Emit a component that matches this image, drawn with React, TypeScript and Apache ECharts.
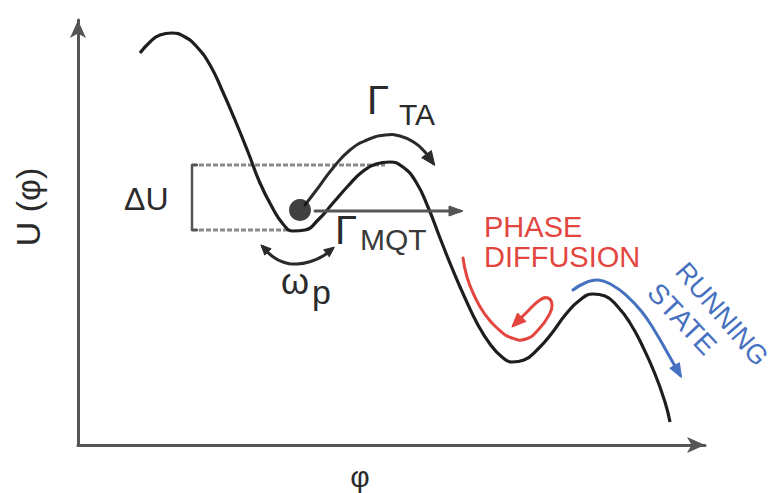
import React, { useEffect, useRef } from "react";
import * as echarts from "echarts";

// Tilted washboard potential U(φ) (schematic values)
const phi = [62, 72, 82, 94, 107, 119, 132, 144, 157, 170, 182, 194, 205, 215, 227, 240, 255, 270, 284, 298, 312, 325, 338, 350, 362, 374, 387, 400, 412, 424, 434, 446, 460, 474, 488, 502, 515, 527, 540, 552, 564, 577, 587, 592];
const U = [392, 403, 410, 412, 408, 398, 380, 355, 325, 293, 262, 238, 221, 214, 215, 225, 242, 259, 273, 281, 283, 278, 263, 238, 207, 177, 147, 120, 101, 88, 83, 85, 96, 112, 131, 145, 151, 149, 138, 122, 100, 71, 43, 23];

// Annotations, in the same (φ, U) coordinates
const deltaUTop = [[114, 280], [307, 280]];
const deltaUBottom = [[114, 215], [212, 215]];
const deltaUBracket = [[119, 280], [114, 280], [114, 215], [119, 215]];
const particle = [[222, 235]];
const mqtArrow = [[237, 234], [382, 234]];
const taArrow = [[227, 240], [240, 257], [255, 277], [272, 295], [289, 305], [307, 310], [322, 309], [337, 302], [347, 293], [355, 282]];
const omegaArc = [[185, 198], [194, 189], [205, 183], [219, 181], [234, 184], [245, 189], [254, 196]];
const diffusionArc = [[385, 187], [389, 168], [396, 150], [406, 132], [419, 117], [434, 107], [448, 106], [461, 116], [471, 130], [474, 140], [470, 147], [462, 145], [449, 133], [436, 120]];
const runningArc = [[495, 155], [507, 162], [520, 165], [534, 160], [549, 149], [564, 133], [578, 112], [589, 93], [602, 70]];

const FONT = "'Liberation Sans', Arial, Helvetica, sans-serif";

type PathOpts = { start?: boolean; end?: boolean; smooth?: number; dash?: number[]; head?: [number, number]; z?: number };

function pathSeries(points: number[][], color: string, width: number, opts: PathOpts) {
  const [hl, hw] = opts.head ?? [14, 11];
  return {
    type: "custom",
    coordinateSystem: "cartesian2d",
    data: points,
    encode: { x: 0, y: 1 },
    silent: true,
    z: opts.z ?? 3,
    renderItem: (params: any, api: any) => {
      if (params.dataIndex !== 0) return null;
      const pts = points.map((p) => api.coord(p));
      const n = pts.length;
      const children: any[] = [
        {
          type: "polyline",
          shape: { points: pts, smooth: opts.smooth ?? 0 },
          style: { stroke: color, lineWidth: width, fill: "none", lineDash: opts.dash, lineCap: opts.dash ? "butt" : "round", lineJoin: "round" },
        },
      ];
      const head = (a: number[], b: number[]) => {
        const dx = b[0] - a[0];
        const dy = b[1] - a[1];
        const len = Math.hypot(dx, dy) || 1;
        const ux = dx / len;
        const uy = dy / len;
        const tip = [b[0] + ux * 3, b[1] + uy * 3];
        const base = [tip[0] - ux * hl, tip[1] - uy * hl];
        const px = -uy;
        const py = ux;
        return {
          type: "polygon",
          shape: { points: [tip, [base[0] + px * hw / 2, base[1] + py * hw / 2], [base[0] - px * hw / 2, base[1] - py * hw / 2]] },
          style: { fill: color, stroke: color, lineWidth: 1 },
        };
      };
      if (opts.end) children.push(head(pts[n - 2], pts[n - 1]));
      if (opts.start) children.push(head(pts[1], pts[0]));
      return { type: "group", children };
    },
  };
}

function txt(text: string, x: number, y: number, size: number, color: string, extra: any = {}) {
  return {
    type: "text",
    x,
    y,
    rotation: extra.rotation ?? 0,
    silent: true,
    z: 10,
    style: {
      text,
      fontSize: size,
      fontFamily: FONT,
      fill: color,
      align: extra.align ?? "left",
      verticalAlign: "middle",
    },
  };
}

export default function App() {
  const ref = useRef<HTMLDivElement>(null);
  useEffect(() => {
    if (!ref.current) return;
    const chart = echarts.init(ref.current, undefined, { renderer: "svg" });
    const dark = "#2b2b2b";
    const red = "#e3463f";
    const blue = "#4670c0";
    chart.setOption({
      animation: false,
      backgroundColor: "#ffffff",
      grid: { left: 78, right: 71, top: 20, bottom: 48, outerBoundsMode: "none" },
      xAxis: {
        type: "value",
        min: 0,
        max: 627,
        axisLine: { show: true, onZero: false, symbol: ["none", "arrow"], symbolSize: [12, 18], lineStyle: { color: "#555555", width: 3 } },
        axisTick: { show: false },
        axisLabel: { show: false },
        splitLine: { show: false },
      },
      yAxis: {
        type: "value",
        min: 0,
        max: 425,
        axisLine: { show: true, onZero: false, symbol: ["none", "arrow"], symbolSize: [12, 18], lineStyle: { color: "#555555", width: 3 } },
        axisTick: { show: false },
        axisLabel: { show: false },
        splitLine: { show: false },
      },
      series: [
        pathSeries(deltaUTop, "#8a8a8a", 3, { dash: [5, 2], z: 1 }),
        pathSeries(deltaUBottom, "#8a8a8a", 3, { dash: [5, 2], z: 1 }),
        pathSeries(deltaUBracket, "#555555", 2.5, { z: 1 }),
        {
          type: "line",
          data: phi.map((x, i) => [x, U[i]]),
          smooth: 0.5,
          showSymbol: false,
          silent: true,
          z: 2,
          lineStyle: { color: "#1e1e1e", width: 3.2 },
        },
        pathSeries(mqtArrow, "#555555", 3, { end: true, head: [14, 10] }),
        pathSeries(taArrow, dark, 3, { end: true, smooth: 0.5, head: [14, 12] }),
        pathSeries(omegaArc, dark, 3, { start: true, end: true, smooth: 0.5, head: [10, 9] }),
        pathSeries(diffusionArc, red, 3, { end: true, smooth: 0.5, head: [14, 12] }),
        pathSeries(runningArc, blue, 3, { end: true, smooth: 0.5, head: [14, 11] }),
        {
          type: "scatter",
          data: particle,
          symbol: "circle",
          symbolSize: 22,
          silent: true,
          z: 5,
          itemStyle: { color: "#111111" },
        },
      ],
      graphic: [
        txt("U (φ)", 28, 207, 34, dark, { rotation: Math.PI / 2, align: "center" }),
        txt("φ", 360, 476, 30, dark, { align: "center" }),
        txt("ΔU", 124, 199, 32, dark),
        txt("Γ", 367, 100, 40, dark),
        txt("TA", 399, 114, 30, dark),
        txt("Γ", 335, 230, 40, dark),
        txt("MQT", 360, 239, 30, "#3a3a3a"),
        txt("ω", 281, 281, 36, dark),
        txt("p", 312, 292, 34, dark),
        txt("PHASE", 484, 227, 29, red),
        txt("DIFFUSION", 484, 257, 29, red),
        txt("RUNNING", 722, 314, 27, blue, { rotation: -0.86, align: "center" }),
        txt("STATE", 682, 319, 28, blue, { rotation: -0.82, align: "center" }),
      ],
    });
    return () => chart.dispose();
  }, []);
  return <div ref={ref} style={{ position: "fixed", left: 0, top: 0, width: 776, height: 493 }} />;
}
